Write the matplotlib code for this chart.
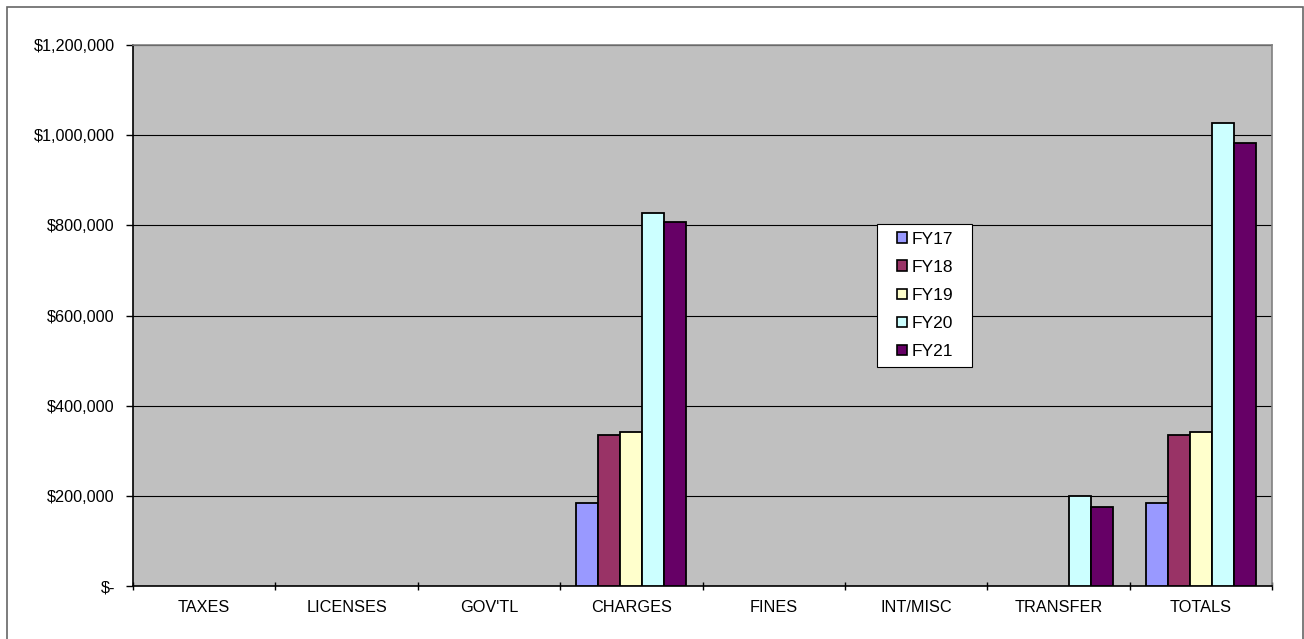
import numpy as np
import matplotlib.pyplot as plt
from matplotlib.patches import Rectangle
from matplotlib.ticker import FuncFormatter, MultipleLocator

plt.rcParams.update({
    "font.family": ["Liberation Sans", "DejaVu Sans"],
    "font.size": 11.7,
})

categories = ["TAXES", "LICENSES", "GOV'TL", "CHARGES", "FINES", "INT/MISC", "TRANSFER", "TOTALS"]
years = ["FY17", "FY18", "FY19", "FY20", "FY21"]

fy17 = [0, 0, 0, 183400, 0, 0, 0, 183400]
fy18 = [0, 0, 0, 335000, 0, 0, 0, 335000]
fy19 = [0, 0, 0, 341000, 0, 0, 0, 341000]
fy20 = [0, 0, 0, 828000, 0, 0, 200000, 1028000]
fy21 = [0, 0, 0, 807000, 0, 0, 175000, 982000]

colors = ["#9999FF", "#993366", "#FFFFCC", "#CCFFFF", "#660066"]

fig = plt.figure(figsize=(13.04, 6.39), dpi=100)
ax = fig.add_axes([0.102, 0.0829, 0.8735, 0.8467])
ax.set_facecolor("#C0C0C0")

x = np.arange(len(categories))
width = 0.1544
for i, (vals, label, col) in enumerate(zip([fy17, fy18, fy19, fy20, fy21], years, colors)):
    h = np.array(vals, dtype=float)
    h[h == 0] = np.nan  # empty categories draw no bar
    ax.bar(x + (i - 2) * width, h, width, color=col, edgecolor="black",
           linewidth=1.3, label=label, zorder=3)

ax.set_xlim(-0.5, len(categories) - 0.5)
ax.set_ylim(0, 1200000)
ax.yaxis.set_major_locator(MultipleLocator(200000))
ax.yaxis.set_major_formatter(FuncFormatter(
    lambda v, _: "$-" if v == 0 else f"${v:,.0f}"))
ax.grid(axis="y", color="black", linewidth=0.8, zorder=1)
ax.set_axisbelow(True)

# category labels centred, tick marks on the boundaries
ax.set_xticks(x)
ax.set_xticklabels(categories)
ax.tick_params(axis="x", length=0, pad=10)
ax.set_xticks(np.arange(-0.5, len(categories)), minor=True)
ax.tick_params(axis="x", which="minor", length=6, width=1, direction="inout")
ax.tick_params(axis="y", length=5, width=1, pad=8, direction="out")

for side in ("left", "bottom"):
    ax.spines[side].set_color("black")
    ax.spines[side].set_linewidth(1.2)
for side in ("top", "right"):
    ax.spines[side].set_color("#808080")
    ax.spines[side].set_linewidth(1.2)

# legend box drawn separately for the wider side padding
ax.add_patch(Rectangle((0.653, 0.405), 0.0837, 0.264, transform=ax.transAxes,
                       facecolor="white", edgecolor="black", linewidth=0.8,
                       zorder=5))
leg = ax.legend(loc="center left", bbox_to_anchor=(0.6708, 0.537), frameon=False,
                fontsize=12.5, handlelength=0.55, handleheight=0.55,
                handletextpad=0.3, labelspacing=0.76, borderpad=0,
                borderaxespad=0)
leg.set_zorder(6)
for p in leg.get_patches():
    p.set_linewidth(1.2)

# outer chart frame
fig.add_artist(Rectangle((6.5 / 1304, -0.05), 1296.5 / 1304, 1.05 - 7 / 639,
                         transform=fig.transFigure, fill=False,
                         edgecolor="#666666", linewidth=1.2))

plt.savefig("out.png", dpi=100)
plt.close()
